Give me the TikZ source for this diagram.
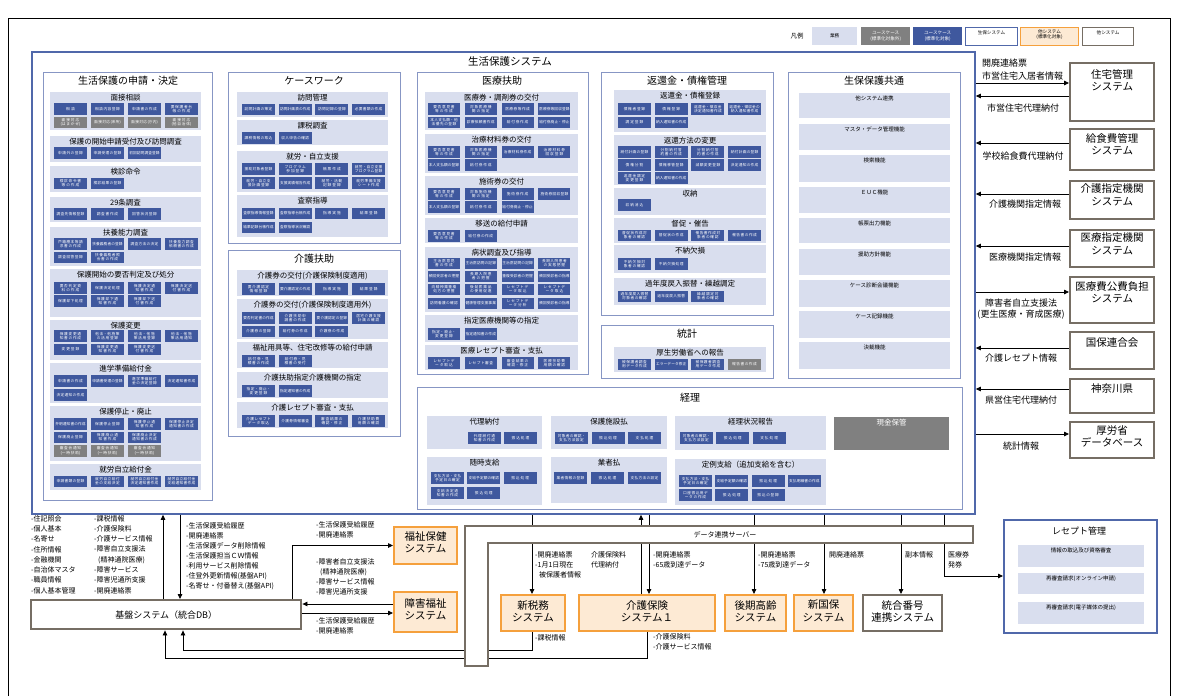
\documentclass[tikz,border=0pt]{standalone}
\usepackage{fontspec}
\setmainfont{Noto Sans CJK JP}
\XeTeXlinebreaklocale "ja"
\XeTeXlinebreakskip=0pt plus 1pt
\usetikzlibrary{arrows.meta,calc}
\definecolor{mainblue}{RGB}{80,104,170}
\definecolor{panelblue}{RGB}{135,150,196}
\definecolor{grpfill}{RGB}{217,222,238}
\definecolor{ucblue}{RGB}{63,88,158}
\definecolor{ucgray}{RGB}{128,128,128}
\definecolor{sysbrown}{RGB}{118,110,100}
\definecolor{orgline}{RGB}{245,160,60}
\definecolor{orgfill}{RGB}{253,234,212}
\newcounter{bxc}
\tikzset{
 ubox/.style={fill=ucblue,text=white,inner sep=0pt,outer sep=0pt,minimum width=33pt,minimum height=11.5pt,text width=32pt,align=center,font=\fontsize{3.7}{4.1}\selectfont},
 gbox/.style={ubox,fill=ucgray},
 grptitle/.style={font=\fontsize{7.5}{8}\selectfont,inner sep=0pt,anchor=north},
 panelsty/.style={draw=panelblue,line width=1pt,fill=white},
 ptitle/.style={font=\fontsize{10}{11}\selectfont,inner sep=0pt,anchor=north},
 sysbox/.style={draw=sysbrown,line width=2.4pt,fill=white,inner sep=0pt,anchor=north west},
 orgbox/.style={draw=orgline,line width=2pt,fill=orgfill,inner sep=0pt,anchor=north west},
 systxt/.style={font=\fontsize{10.5}{12.5}\selectfont,align=center,inner sep=0pt,anchor=north},
 arr/.style={draw=black,line width=0.8pt,-{Triangle[length=5pt,width=4.5pt]}},
 ln/.style={draw=black,line width=0.8pt},
 lbl/.style={font=\fontsize{9}{10}\selectfont,inner sep=0pt},
 lst/.style={font=\fontsize{7}{10.3}\selectfont,inner sep=0pt,align=left,anchor=north west},
 cmntxt/.style={font=\fontsize{5.5}{6}\selectfont,inner sep=0pt,anchor=north},
 lgtxt/.style={font=\fontsize{4.6}{5.2}\selectfont,inner sep=0pt,align=center},
}
\newcommand\brow[5]{\foreach \t [count=\i] in {#5}{\stepcounter{bxc}\node[#1,anchor=north west] (bx\arabic{bxc}) at ({#2+(\i-1)*#3},#4) {\t};}}
\newcommand\grp[6]{\fill[grpfill] (#2,#3) rectangle (#4,#5); \node[grptitle] (#1) at ({(#2+#4)/2},#3+1.8) {#6};}
\newcommand\cmnitem[4]{\fill[grpfill] (799,#2) rectangle (950,#3); \node[cmntxt] (#1) at (874.5,#2+3) {#4};}
\begin{document}
\begin{tikzpicture}[x=1pt,y=-1pt]
\useasboundingbox (0,0) rectangle (1182,696);
\fill[white] (0,0) rectangle (1182,696);
\draw[line width=0.7pt] (8,696) -- (8,18) -- (1170,18) -- (1170,696);

% legend
\node[font=\fontsize{6.5}{7}\selectfont,inner sep=0pt] (lgT) at (797,36) {凡例};
\node[fill=grpfill,minimum width=45pt,minimum height=18pt,anchor=north west,inner sep=0pt,lgtxt] (lg1) at (812,27) {業務};
\node[fill=ucgray,text=white,minimum width=49pt,minimum height=18pt,anchor=north west,inner sep=0pt,lgtxt] (lg2) at (861,27) {ユースケース\\(標準化対象外)};
\node[fill=ucblue,text=white,minimum width=49pt,minimum height=18pt,anchor=north west,inner sep=0pt,lgtxt] (lg3) at (913,27) {ユースケース\\(標準化対象)};
\node[draw=mainblue,line width=1pt,minimum width=52pt,minimum height=18pt,anchor=north west,inner sep=0pt] (lg4) at (965,27) {};
\node[lgtxt,anchor=north] (lg4T) at ([yshift=-3pt]lg4.north) {生保システム};
\node[draw=orgline,fill=orgfill,line width=1pt,minimum width=58pt,minimum height=18pt,anchor=north west,inner sep=0pt] (lg5) at (1020,27) {};
\node[lgtxt,anchor=north] (lg5T) at ([yshift=-2.5pt]lg5.north) {他システム\\(標準化対象)};
\node[draw=sysbrown,line width=1.3pt,minimum width=51pt,minimum height=18pt,anchor=north west,inner sep=0pt] (lg6) at (1082,27) {};
\node[lgtxt,anchor=north] (lg6T) at ([yshift=-3pt]lg6.north) {他システム};

% main frame
\node[draw=mainblue,line width=1.8pt,minimum width=943pt,minimum height=462pt,anchor=north west,inner sep=0pt] (main) at (31,51) {};
\node[font=\fontsize{10.5}{11}\selectfont,inner sep=0pt] (mainT) at (510,62) {生活保護システム};

% ---------- panel 1
\draw[panelsty] (43,72) rectangle (212,500);
\node[ptitle] (p1T) at (128,76) {生活保護の申請・決定};
\grp{g11}{50}{92}{201}{130}{面接相談}
\brow{ubox}{54}{37}{103}{相談,相談内容登録,申請書の作成,要保護者台帳の作成}
\brow{gbox}{54}{37}{116.5}{面接対応(はまかぜ),面接対応(来所),面接対応(庁内),面接対応(他自治体)}
\grp{g12}{50}{136}{201}{162}{保護の開始申請受付及び訪問調査}
\brow{ubox}{54}{37}{147}{申請外の登録,申請受理の登録,初回訪問調査登録}
\grp{g13}{50}{166}{201}{192}{検診命令}
\brow{ubox}{54}{37}{177.5}{検診命令書等の作成,検診結果の登録}
\grp{g14}{50}{197}{201}{222}{29条調査}
\brow{ubox}{54}{37}{208}{調査先情報登録,調査書作成,回答状況登録}
\grp{g15}{50}{227}{201}{266}{扶養能力調査}
\brow{ubox}{54}{37}{238}{戸籍謄本等請求書の作成,扶養義務者の登録,調査方法の決定,扶養能力調査依頼書の作成}
\brow{ubox}{54}{37}{251.5}{調査回答登録,扶養義務者照会書の作成}
\grp{g16}{50}{269}{201}{317}{保護開始の要否判定及び処分}
\brow{ubox}{54}{37}{282}{要否判定資料の作成,保護決定処理,保護決定通知書作成,保護決定送付書作成}
\brow{ubox}{54}{37}{295}{保護却下処理,保護却下通知書作成,保護却下送付書作成}
\grp{g17}{50}{320}{201}{360}{保護変更}
\brow{ubox}{54}{37}{330}{保護変更通知書の作成,他法・他施策の活用登録,他法・他施策活用登録,他法・他施策活用通知}
\brow{ubox}{54}{37}{343.5}{変更登録,保護変更通知書作成,保護変更送付書作成}
\grp{g18}{50}{363}{201}{403}{進学準備給付金}
\brow{ubox}{54}{37}{375}{申請書の作成,申請書受理の登録,進学準備給付金の決定登録,決定通知書作成}
\brow{ubox}{54}{37}{389}{決定通知の作成}
\grp{g19}{50}{406}{201}{461}{保護停止・廃止}
\brow{ubox}{54}{37}{418}{弁明通知書の作成,保護停止登録,保護停止通知書作成,保護停止決定通知書の作成}
\brow{ubox}{54}{37}{431.5}{保護廃止登録,保護廃止通知書作成,保護廃止決定通知書の作成}
\brow{gbox}{54}{37}{445}{審査会通知(一時扶助),審査会通知(一時扶助),審査会通知(一時扶助)}
\grp{g1a}{50}{464}{201}{490}{就労自立給付金}
\brow{ubox}{54}{37}{475.5}{申請書類の登録,就労自立給付金の支給決定,就労自立給付金決定通知書作成,就労自立給付金支給通知書作成}

% ---------- panel 2
\draw[panelsty] (228,72) rectangle (400,243);
\node[ptitle] (p2T) at (314,76) {ケースワーク};
\grp{g21}{237}{92}{388}{117}{訪問管理}
\brow{ubox}{242}{36.7}{103.5}{訪問計画の策定,訪問計画表の作成,訪問記録の登録,必要書類の作成}
\grp{g22}{237}{120}{388}{145}{課税調査}
\brow{ubox}{242}{36.7}{132}{課税情報の取込,収入申告の確認}
\grp{g23}{237}{151}{388}{192}{就労・自立支援}
\brow{ubox}{242}{36.7}{163}{援助対象者登録,プログラム参加登録,帳票作成,就労・自立支援プログラム登録}
\brow{ubox}{242}{36.7}{177}{就労・自立支援計画登録,支援実績報告作成,就労・活動記録登録,就労準備支援シート作成}
\grp{g24}{237}{195}{388}{237}{査察指導}
\brow{ubox}{242}{36.7}{207.5}{査察指導情報登録,査察指導台帳作成,指導実施,結果登録}
\brow{ubox}{242}{36.7}{221.5}{結果記録台帳作成,査察指導状況確認}

% ---------- panel 3
\draw[panelsty] (228,250) rectangle (400,436);
\node[ptitle] (p3T) at (314,254) {介護扶助};
\grp{g31}{237}{270}{388}{296}{介護券の交付(介護保険制度適用)}
\brow{ubox}{242}{36.7}{283}{要介護認定情報登録,要介護認定の作成,指導実施,結果登録}
\grp{g32}{237}{299}{388}{339}{介護券の交付(介護保険制度適用外)}
\brow{ubox}{242}{36.7}{312}{要否判定書の作成,介護扶助申請書の作成,要介護認定の登録,居宅介護支援計画の確認}
\brow{ubox}{242}{36.7}{325.5}{介護券の登録,給付券の作成,介護券の作成}
\grp{g33}{237}{342}{388}{368}{福祉用具等、住宅改修等の給付申請}
\brow{ubox}{242}{36.7}{355}{給付券・見積書の作成,給付券・見積書の受付}
\grp{g34}{237}{372}{388}{398}{介護扶助指定介護機関の指定}
\brow{ubox}{242}{36.7}{385}{指定・廃止・変更登録,指定通知書の作成}
\grp{g35}{237}{402}{388}{428}{介護レセプト審査・支払}
\brow{ubox}{242}{36.7}{415}{介護レセプトデータ取込,介護券情報審査,審査結果の確認・修正,介護扶助費用額の確認}

% ---------- panel 4
\draw[panelsty] (417,72) rectangle (588,374);
\node[ptitle] (p4T) at (502,76) {医療扶助};
\grp{g41}{425}{92}{578}{130}{医療券・調剤券の交付}
\brow{ubox,minimum width=32pt}{428}{36.8}{103}{要否意見書等の作成,対象医療機関の指定,医療券等作成,医療券等回収登録}
\brow{ubox,minimum width=32pt}{428}{36.8}{116.5}{本人支払額・他法優先の登録,診療依頼書作成,給付券作成,給付券廃止・停止}
\grp{g42}{425}{134}{578}{173}{治療材料券の交付}
\brow{ubox,minimum width=32pt}{428}{36.8}{146}{要否意見書等の作成,対象医療機関の指定,治療材料券作成,治療材料券回収登録}
\brow{ubox,minimum width=32pt}{428}{36.8}{159}{本人支払額の登録,給付券作成}
\grp{g43}{425}{176}{578}{215}{施術券の交付}
\brow{ubox,minimum width=32pt}{428}{36.8}{188}{要否意見書等の作成,対象施術機関の指定,施術券作成,施術券回収登録}
\brow{ubox,minimum width=32pt}{428}{36.8}{201}{本人支払額の登録,給付券作成,給付券廃止・停止}
\grp{g44}{425}{218}{578}{243}{移送の給付申請}
\brow{ubox,minimum width=32pt}{428}{36.8}{230}{要否意見書等の作成,給付券の作成}
\grp{g45}{425}{247}{578}{312}{病状調査及び指導}
\brow{ubox,minimum width=32pt,minimum height=11pt}{428}{36.8}{257.5}{主治医意見書の作成,主治医訪問の記録,主治医訪問の記録,長期入院患者の実態把握}
\brow{ubox,minimum width=32pt,minimum height=11pt}{428}{36.8}{270.5}{頻回受診者の把握,長期入院患者の把握,重複受診者の把握,頻回受診者の指導}
\brow{ubox,minimum width=32pt,minimum height=11pt}{428}{36.8}{284}{向精神薬重複処方の把握,後発医薬品の使用促進,レセプトデータ取込,レセプトデータ取込}
\brow{ubox,minimum width=32pt,minimum height=11pt}{428}{36.8}{297.5}{訪問看護の確認,健康管理支援事業,レセプトデータ分析,頻回受診者の指導}
\grp{g46}{425}{315}{578}{342}{指定医療機関等の指定}
\brow{ubox,minimum width=32pt}{428}{36.8}{328}{指定・廃止・変更登録,指定通知書の作成}
\grp{g47}{425}{345}{578}{370}{医療レセプト審査・支払}
\brow{ubox,minimum width=32pt}{428}{36.8}{357}{レセプトデータ取込,レセプト審査,審査結果の確認・修正,医療扶助費用額の確認}

% ---------- panel 5
\draw[panelsty] (601,72) rectangle (773,315);
\node[ptitle] (p5T) at (687,76) {返還金・債権管理};
\grp{g51}{614}{90}{766}{132}{返還金・債権登録}
\brow{ubox}{618}{36.7}{103}{債権者登録,債権登録,返還金・徴収金決定通知書作成,返還金・徴収金の納入通知書作成}
\brow{ubox}{618}{36.7}{116.5}{調定登録,納入通知書の作成}
\grp{g52}{614}{135}{766}{185}{返還方法の変更}
\brow{ubox}{618}{36.7}{146}{納付計画の登録,分割納付誓約書の作成,分割納付誓約書の作成,納付計画の登録}
\brow{ubox}{618}{36.7}{159}{債権分割,債権移管登録,減額変更登録,決定通知の作成}
\brow{ubox}{618}{36.7}{172}{返還金調定変更登録,納入通知書の作成}
\grp{g53}{614}{188}{766}{215}{収納}
\brow{ubox}{618}{36.7}{199}{収納消込}
\grp{g54}{614}{218}{766}{243}{督促・催告}
\brow{ubox}{618}{36.7}{229.5}{督促状作成対象者の確認,督促状の作成,催告書作成対象者の確認,催告書の作成}
\grp{g55}{614}{245}{766}{273}{不納欠損}
\brow{ubox}{618}{36.7}{258}{不納欠損対象者の確認,不納欠損処理}
\grp{g56}{614}{278}{766}{305}{過年度戻入振替・繰越調定}
\brow{ubox}{618}{36.7}{290.5}{過年度戻入振替対象者の確認,過年度戻入振替,繰越調定対象者の確認}

% ---------- panel 6
\draw[panelsty] (601,325) rectangle (773,378);
\node[ptitle] (p6T) at (687,329) {統計};
\grp{g61}{614}{347}{766}{372}{厚生労働省への報告}
\brow{ubox}{618}{36.7}{358.5}{被保護者調査用データ作成,エラーデータ修正,被保護者調査用データ作成}
\stepcounter{bxc}\node[gbox,anchor=north west] (bx\arabic{bxc}) at (728,358.5) {報告書の作成};

% ---------- panel 7
\draw[panelsty] (788,72) rectangle (960,378);
\node[ptitle] (p7T) at (874,76) {生保保護共通};
\cmnitem{c1}{93}{118}{他システム連携}
\cmnitem{c2}{124}{150}{マスタ・データ管理機能}
\cmnitem{c3}{155}{182}{検索機能}
\cmnitem{c4}{187}{213}{ＥＵＣ機能}
\cmnitem{c5}{218}{243}{帳票出力機能}
\cmnitem{c6}{249}{275}{援助方針機能}
\cmnitem{c7}{280}{307}{ケース診断会議機能}
\cmnitem{c8}{311}{338}{ケース記録機能}
\cmnitem{c9}{342}{369}{決裁機能}

% ---------- panel 8 経理
\draw[panelsty] (417,387) rectangle (962,509);
\node[ptitle] (p8T) at (690,393) {経理};
\grp{g81}{427}{416}{542}{449}{代理納付}
\brow{ubox}{468}{36}{432}{代理納付通知書の作成,振込処理}
\grp{g82}{551}{416}{667}{449}{保護施設払}
\brow{ubox}{555}{36.5}{432}{対象者の確認・支払方法設定,振込処理,支払処理}
\grp{g83}{675}{416}{826}{450}{経理状況報告}
\brow{ubox}{680}{36.3}{432}{対象者の確認・支払方法設定,振込処理,支払処理}
\fill[ucgray] (834,417) rectangle (949,450);
\node[grptitle,text=white] (g84) at (891.5,418.8) {現金保管};
\grp{g85}{427}{457}{542}{505}{随時支給}
\brow{ubox}{431}{36.3}{472}{支払方法・支払予定日の確定,支給予定額の確認,振込処理}
\brow{ubox}{431}{36.3}{487}{支給決定通知書の作成,振込処理}
\grp{g86}{551}{457}{667}{503}{業者払}
\brow{ubox}{554}{37}{472}{業者情報の登録,振込処理,支払方法の設定}
\grp{g87}{675}{459}{826}{505}{定例支給（追加支給を含む）}
\brow{ubox}{679}{36.3}{475}{支払方法・支払予定日の確定,支給予定額の確認,振込処理,支払明細書の作成}
\brow{ubox}{679}{36.3}{489}{口座振込用データの作成,振込処理,振込の登録}

% ---------- right side systems
\node[sysbox,minimum width=84pt,minimum height=58pt] (jutaku) at (1069,62) {};
\node[systxt] (jutakuT) at ([yshift=-7pt]jutaku.north) {住宅管理\\システム};
\node[sysbox,minimum width=84pt,minimum height=41pt] (kyu) at (1069,128) {};
\node[systxt] (kyuT) at ([yshift=-5pt]kyu.north) {給食費管理\\システム};
\node[sysbox,minimum width=84pt,minimum height=38pt] (kshitei) at (1069,180) {};
\node[systxt] (kshiteiT) at ([yshift=-3.5pt]kshitei.north) {介護指定機関\\システム};
\node[sysbox,minimum width=84pt,minimum height=37pt] (ishitei) at (1069,229) {};
\node[systxt] (ishiteiT) at ([yshift=-3.5pt]ishitei.north) {医療指定機関\\システム};
\node[sysbox,minimum width=84pt,minimum height=46pt] (kohi) at (1069,276) {};
\node[systxt] (kohiT) at ([yshift=-5pt]kohi.north) {医療費公費負担\\システム};
\node[sysbox,minimum width=84pt,minimum height=37pt] (kokuren) at (1069,331) {};
\node[systxt] (kokurenT) at ([yshift=-6pt]kokuren.north) {国保連合会};
\node[sysbox,minimum width=84pt,minimum height=34pt] (kanagawa) at (1069,378) {};
\node[systxt] (kanagawaT) at ([yshift=-5pt]kanagawa.north) {神奈川県};
\node[sysbox,minimum width=84pt,minimum height=36pt] (koro) at (1069,421) {};
\node[systxt] (koroT) at ([yshift=-4pt]koro.north) {厚労省\\データベース};

\coordinate (r83) at (0,83);
\coordinate (r96) at (0,96);
\coordinate (r143) at (0,143);
\coordinate (r194) at (0,194);
\coordinate (r246) at (0,246);
\coordinate (r292) at (0,292);
\coordinate (r348) at (0,348);
\coordinate (r389) at (0,389);
\coordinate (r434) at (0,434);
\draw[arr] (main.east |- r83) -- (jutaku.west |- r83);
\draw[arr] (jutaku.west |- r96) -- (main.east |- r96);
\draw[arr] (kyu.west |- r143) -- (main.east |- r143);
\draw[arr] (kshitei.west |- r194) -- (main.east |- r194);
\draw[arr] (ishitei.west |- r246) -- (main.east |- r246);
\draw[arr] (main.east |- r292) -- (kohi.west |- r292);
\draw[arr] (kokuren.west |- r348) -- (main.east |- r348);
\draw[arr] (kanagawa.west |- r389) -- (main.east |- r389);
\draw[arr] (main.east |- r434) -- (koro.west |- r434);
\node[lbl,anchor=west] (l1a) at (982,63) {開廃連絡票};
\node[lbl,anchor=west] (l1b) at (982,76) {市営住宅入居者情報};
\node[lbl] (l2) at (1023,108) {市営住宅代理納付};
\node[lbl] (l3) at (1023,156) {学校給食費代理納付};
\node[lbl] (l4) at (1025,204) {介護機関指定情報};
\node[lbl] (l5) at (1025,257) {医療機関指定情報};
\node[lbl] (l6a) at (1021,303) {障害者自立支援法};
\node[lbl] (l6b) at (1021,315) {(更生医療・育成医療)};
\node[lbl] (l7) at (1021,358) {介護レセプト情報};
\node[lbl] (l8) at (1021,400) {県営住宅代理納付};
\node[lbl] (l9) at (1021,446) {統計情報};

% ---------- bottom left
\node[sysbox,minimum width=270pt,minimum height=29pt] (kiban) at (30,599) {};
\node[font=\fontsize{9}{10}\selectfont,inner sep=0pt] (kibanT) at (kiban.center) {基盤システム（統合DB）};
\node[orgbox,minimum width=63pt,minimum height=37pt] (fukushi) at (393,526) {};
\node[systxt] (fukushiT) at ([yshift=-5pt]fukushi.north) {福祉保健\\システム};
\node[orgbox,minimum width=63pt,minimum height=40pt] (shogai) at (393,591) {};
\node[systxt] (shogaiT) at ([yshift=-7pt]shogai.north) {障害福祉\\システム};

\node[lst] (ls1) at (31,515) {-住記照会\\-個人基本\\-名寄せ\\-住所情報\\-金融機関\\-自治体マスタ\\-職員情報\\-個人基本管理};
\node[lst] (ls2) at (94,515) {-課税情報\\-介護保険料\\-介護サービス情報\\-障害自立支援法\\\hspace*{4pt}(精神通院医療)\\-障害サービス\\-障害児通所支援\\-開廃連絡票};
\node[lst,font=\fontsize{7}{10}\selectfont] (ls3) at (186,522) {-生活保護受給履歴\\-開廃連絡票\\-生活保護データ削除情報\\-生活保護担当ＣＷ情報\\-利用サービス削除情報\\-住登外更新情報(基盤API)\\-名寄せ・付番替え(基盤API)};
\node[lst,font=\fontsize{7}{10.5}\selectfont] (ls4) at (316,521) {-生活保護受給履歴\\-開廃連絡票};
\node[lst,font=\fontsize{7}{10}\selectfont] (ls5) at (316,558) {-障害者自立支援法\\\hspace*{4pt}(精神通院医療)\\-障害サービス情報\\-障害児通所支援};
\node[lst,font=\fontsize{7}{10}\selectfont] (ls6) at (316,617) {-生活保護受給履歴\\-開廃連絡票};

\coordinate (c163) at (163,0);
\coordinate (c180) at (180,0);
\coordinate (c165) at (165,0);
\coordinate (c183) at (183,0);
\coordinate (c292) at (292,0);
\coordinate (y604) at (0,604);
\coordinate (y613) at (0,613);
\draw[arr] (kiban.north -| c163) -- (main.south -| c163);
\draw[arr] (main.south -| c180) -- (kiban.north -| c180);
\draw[arr] (kiban.north -| c292) |- (fukushi.west);
\draw[arr] (shogai.west |- y604) -- (kiban.east |- y604);
\draw[arr] (kiban.east |- y613) -- (shogai.west |- y613);

% ---------- bottom middle systems
\node[orgbox,minimum width=64pt,minimum height=36pt] (shinzei) at (500,594) {};
\node[systxt] (shinzeiT) at ([yshift=-6pt]shinzei.north) {新税務\\システム};
\node[orgbox,minimum width=136pt,minimum height=36pt] (kaigo) at (578,594) {};
\node[systxt] (kaigoT) at ([yshift=-6pt]kaigo.north) {介護保険\\システム１};
\node[orgbox,minimum width=61pt,minimum height=36pt] (kouki) at (724,594) {};
\node[systxt] (koukiT) at ([yshift=-6pt]kouki.north) {後期高齢\\システム};
\node[orgbox,minimum width=59pt,minimum height=36pt] (shinkoku) at (793,594) {};
\node[systxt] (shinkokuT) at ([yshift=-6pt]shinkoku.north) {新国保\\システム};
\node[sysbox,minimum width=79pt,minimum height=36pt] (tougou) at (862,594) {};
\node[systxt] (tougouT) at ([yshift=-6pt]tougou.north) {統合番号\\連携システム};

% receipt panel
\node[draw=mainblue,line width=1.5pt,fill=white,minimum width=153pt,minimum height=113pt,anchor=north west,inner sep=0pt] (rece) at (1003,519) {};
\node[font=\fontsize{9}{10}\selectfont,inner sep=0pt] (receT) at (1079,531) {レセプト管理};
\fill[grpfill] (1018,545) rectangle (1144,567);
\node[cmntxt] (re1) at (1081,548) {情報の取込及び資格審査};
\fill[grpfill] (1018,573) rectangle (1144,594);
\node[cmntxt] (re2) at (1081,576) {再審査請求(オンライン申請)};
\fill[grpfill] (1018,602) rectangle (1144,624);
\node[cmntxt] (re3) at (1081,605) {再審査請求(電子媒体の提出)};

\coordinate (c532) at (532,0);
\coordinate (c641) at (641,0);
\coordinate (c647) at (647,0);
\coordinate (c649) at (649,0);
\coordinate (c754) at (754,0);
\coordinate (c824) at (824,0);
\coordinate (c901) at (901,0);
\coordinate (c944) at (944,0);
\coordinate (y576) at (0,576);
\draw[arr] (main.south -| c532) -- (shinzei.north -| c532);
\draw[arr] (kaigo.north -| c641) -- (main.south -| c641);
\draw[arr] (main.south -| c649) -- (kaigo.north -| c649);
\draw[arr] (main.south -| c754) -- (kouki.north -| c754);
\draw[arr] (main.south -| c824) -- (shinkoku.north -| c824);
\draw[arr] (main.south -| c901) -- (tougou.north -| c901);
\draw[arr] (main.south -| c944) |- (rece.west |- y576);
\draw[arr] (shinzei.south -| c532) -- ++(0,18) -| (kiban.south -| c183);
\draw[arr] (kaigo.south -| c647) -- ++(0,26) -| (kiban.south -| c165);

% data server (L shape)
\filldraw[fill=white,draw=sysbrown,line width=2.4pt] (465,526) -- (973,526) -- (973,543) -- (488,543) -- (488,666) -- (465,666) -- cycle;
\node[font=\fontsize{7}{8}\selectfont,inner sep=0pt] (srvT) at (725,535) {データ連携サーバー};

\node[lst] (bl1) at (535,551) {-開廃連絡票\\-1月1日現在\\\hspace*{4pt}被保護者情報};
\node[lst] (bl2) at (591,551) {介護保険料\\代理納付};
\node[lst] (bl3) at (653,551) {-開廃連絡票\\-65歳到達データ};
\node[lst] (bl4) at (758,551) {-開廃連絡票\\-75歳到達データ};
\node[lst] (bl5) at (829,551) {開廃連絡票};
\node[lst] (bl6) at (905,551) {副本情報};
\node[lst] (bl7) at (948,551) {医療券\\発券};
\node[lst] (bl8) at (535,634) {-課税情報};
\node[lst] (bl9) at (653,633) {-介護保険料\\-介護サービス情報};
\end{tikzpicture}
\end{document}
